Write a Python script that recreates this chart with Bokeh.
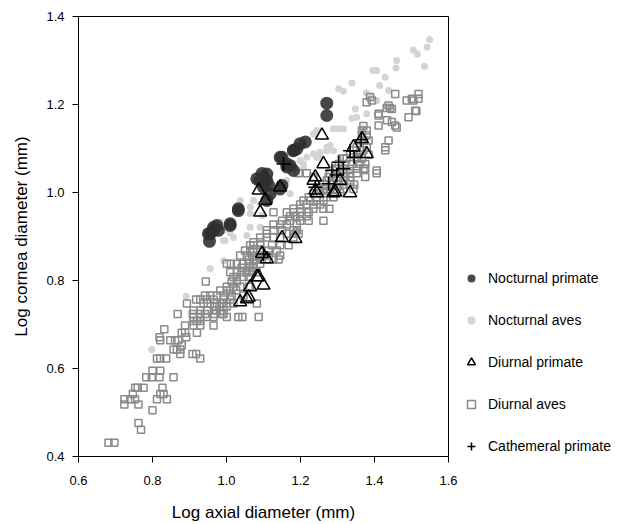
from bokeh.plotting import figure
from bokeh.models import Legend, LegendItem, ColumnDataSource, FixedTicker, PrintfTickFormatter
from bokeh.embed import file_html
from bokeh.resources import INLINE

# ---------------- data (log axial diameter, log cornea diameter) ----------------
nocturnal_primate = [
    (1.271, 1.203), (1.271, 1.175), (1.199, 1.111), (1.213, 1.115), (1.190, 1.099),
    (1.181, 1.096), (1.150, 1.080), (1.172, 1.061), (1.163, 1.058), (1.181, 1.050),
    (1.145, 1.080), (1.163, 1.065), (1.181, 1.095), (1.109, 1.042), (1.100, 1.035),
    (1.091, 1.027), (1.109, 1.027), (1.114, 1.016), (1.100, 1.012), (1.082, 1.031),
    (1.096, 1.043), (1.150, 1.016), (1.145, 1.008), (1.118, 0.997), (1.109, 0.982),
    (1.032, 0.963), (1.032, 0.959), (0.974, 0.925), (0.965, 0.914), (0.956, 0.906),
    (0.954, 0.889), (1.010, 0.925), (0.965, 0.921), (0.978, 0.914), (0.951, 0.906),
    (1.010, 0.929),
]

nocturnal_aves = [
    (1.549, 1.348), (1.542, 1.330), (1.535, 1.287), (1.516, 1.315), (1.505, 1.324),
    (1.460, 1.300), (1.458, 1.283), (1.406, 1.277), (1.396, 1.277), (1.429, 1.262),
    (1.414, 1.243), (1.438, 1.232), (1.339, 1.249), (1.303, 1.236), (1.316, 1.230),
    (1.378, 1.226), (1.388, 1.220), (1.406, 1.209), (1.348, 1.190), (1.339, 1.169),
    (1.352, 1.171), (1.379, 1.179), (1.366, 1.145), (1.316, 1.145), (1.303, 1.145),
    (1.289, 1.145), (1.244, 1.141), (1.271, 1.103), (1.253, 1.080), (1.235, 1.088),
    (1.217, 1.080), (1.199, 1.073), (1.208, 1.058), (1.181, 1.058), (1.163, 1.027),
    (1.145, 1.012), (1.127, 0.997), (1.109, 0.982), (1.091, 0.974), (1.073, 0.982),
    (1.064, 0.967), (1.037, 0.982), (1.032, 0.963), (0.992, 0.891), (0.983, 0.933),
    (1.064, 0.952), (1.096, 0.948), (1.064, 0.921), (0.992, 0.914), (1.019, 0.898),
    (1.172, 0.997), (1.127, 1.005), (1.091, 0.921), (1.055, 0.902), (0.996, 0.891),
    (0.992, 0.845), (0.956, 0.827), (0.891, 0.764), (0.798, 0.643), (1.010, 0.908),
    (1.253, 1.092), (1.280, 1.107), (1.271, 1.095), (1.289, 1.095), (1.307, 1.080),
    (1.244, 1.080), (1.208, 1.065), (1.190, 1.043), (1.235, 1.133),
]

diurnal_primate = [
    (1.258, 1.130), (1.262, 1.065), (1.087, 1.005), (1.105, 0.982), (1.091, 0.955),
    (1.145, 1.012), (1.235, 1.027), (1.334, 0.999), (1.289, 0.999), (1.366, 1.122),
    (1.343, 1.103), (1.307, 1.027), (1.186, 0.895), (1.150, 0.897), (1.244, 0.999),
    (1.379, 1.088), (1.240, 1.035), (1.240, 1.005), (1.294, 1.001), (1.037, 0.751),
    (1.055, 0.758), (1.064, 0.785), (1.082, 0.808), (1.100, 0.789), (1.096, 0.861),
    (1.109, 0.849), (1.060, 0.762), (1.087, 0.808),
]

diurnal_aves = [
    (0.681, 0.431), (0.697, 0.431), (0.762, 0.476), (0.769, 0.461), (0.800, 0.505),
    (0.724, 0.518), (0.762, 0.518), (0.724, 0.530), (0.740, 0.530), (0.753, 0.530),
    (0.812, 0.530), (0.839, 0.530), (0.747, 0.542), (0.821, 0.542), (0.830, 0.542),
    (0.753, 0.556), (0.760, 0.556), (0.776, 0.556), (0.827, 0.556), (0.783, 0.580),
    (0.798, 0.580), (0.819, 0.580), (0.857, 0.580), (0.800, 0.595), (0.821, 0.595),
    (0.812, 0.623), (0.821, 0.623), (0.837, 0.623), (0.929, 0.623), (0.875, 0.633),
    (0.908, 0.633), (0.918, 0.633), (0.857, 0.643), (0.866, 0.643), (0.875, 0.643),
    (0.879, 0.652), (0.821, 0.664), (0.848, 0.664), (0.861, 0.664), (0.870, 0.664),
    (0.819, 0.671), (0.891, 0.671), (0.879, 0.681), (0.888, 0.681), (0.920, 0.681),
    (0.832, 0.689), (0.888, 0.698), (0.911, 0.698), (0.929, 0.698), (0.965, 0.698),
    (0.911, 0.708), (0.920, 0.708), (0.929, 0.708), (0.911, 0.717), (0.929, 0.717),
    (0.947, 0.717), (0.965, 0.717), (1.001, 0.717), (1.032, 0.717), (1.043, 0.717),
    (1.087, 0.717), (0.868, 0.724), (0.909, 0.724), (0.929, 0.724), (0.942, 0.724),
    (0.968, 0.724), (0.987, 0.724), (0.992, 0.724), (0.911, 0.732), (0.929, 0.732),
    (0.947, 0.732), (0.972, 0.732), (0.983, 0.732), (0.968, 0.741), (0.981, 0.741),
    (0.992, 0.741), (1.001, 0.741), (0.893, 0.748), (0.938, 0.748), (0.949, 0.748),
    (0.974, 0.748), (0.987, 0.748), (1.001, 0.748), (1.019, 0.748), (1.082, 0.748),
    (0.918, 0.757), (0.929, 0.757), (0.947, 0.757), (0.965, 0.757), (0.992, 0.757),
    (1.010, 0.757), (0.942, 0.766), (0.956, 0.766), (0.974, 0.766), (0.992, 0.766),
    (1.014, 0.766), (1.046, 0.766), (0.983, 0.777), (1.001, 0.777), (1.010, 0.777),
    (1.026, 0.777), (1.001, 0.786), (1.019, 0.786), (1.037, 0.786), (1.060, 0.786),
    (1.064, 0.786), (0.944, 0.798), (1.014, 0.798), (1.028, 0.798), (1.019, 0.808),
    (1.028, 0.808), (1.046, 0.808), (1.060, 0.808), (1.010, 0.819), (1.028, 0.819),
    (1.041, 0.819), (1.055, 0.819), (1.069, 0.819), (1.082, 0.819), (1.041, 0.829),
    (1.064, 0.829), (1.071, 0.829), (1.001, 0.838), (1.012, 0.838), (1.028, 0.838),
    (1.044, 0.838), (1.060, 0.838), (1.073, 0.838), (1.091, 0.838), (1.060, 0.848),
    (1.073, 0.848), (1.082, 0.848), (1.096, 0.848), (1.109, 0.848), (1.127, 0.848),
    (1.141, 0.848), (1.037, 0.857), (1.055, 0.857), (1.069, 0.857), (1.091, 0.857),
    (1.114, 0.857), (1.145, 0.857), (1.050, 0.868), (1.064, 0.868), (1.073, 0.868),
    (1.091, 0.868), (1.114, 0.868), (1.136, 0.868), (1.064, 0.880), (1.073, 0.880),
    (1.091, 0.880), (1.123, 0.880), (1.145, 0.880), (1.168, 0.880), (1.073, 0.887),
    (1.091, 0.887), (1.091, 0.898), (1.109, 0.898), (1.127, 0.898), (1.145, 0.898),
    (1.181, 0.898), (1.109, 0.906), (1.163, 0.906), (1.186, 0.906), (1.195, 0.906),
    (1.109, 0.914), (1.127, 0.914), (1.150, 0.914), (1.181, 0.914), (1.190, 0.914),
    (1.127, 0.927), (1.145, 0.927), (1.163, 0.927), (1.190, 0.927), (1.150, 0.936),
    (1.172, 0.936), (1.199, 0.936), (1.222, 0.936), (1.262, 0.936), (1.172, 0.946),
    (1.186, 0.946), (1.199, 0.946), (1.217, 0.946), (1.127, 0.955), (1.163, 0.955),
    (1.181, 0.955), (1.199, 0.955), (1.222, 0.955), (1.181, 0.963), (1.199, 0.963),
    (1.235, 0.963), (1.262, 0.963), (1.278, 0.963), (1.199, 0.973), (1.217, 0.973),
    (1.235, 0.973), (1.253, 0.973), (1.208, 0.982), (1.226, 0.982), (1.244, 0.982),
    (1.262, 0.982), (1.222, 0.989), (1.244, 0.989), (1.271, 0.989), (1.289, 0.989),
    (1.235, 0.999), (1.253, 0.999), (1.271, 0.999), (1.289, 0.999), (1.307, 0.999),
    (1.249, 1.008), (1.262, 1.008), (1.280, 1.008), (1.298, 1.008), (1.316, 1.008),
    (1.343, 1.008), (1.262, 1.018), (1.271, 1.018), (1.289, 1.018), (1.303, 1.018),
    (1.316, 1.018), (1.334, 1.018), (1.345, 1.018), (1.271, 1.027), (1.285, 1.027),
    (1.298, 1.027), (1.316, 1.027), (1.334, 1.027), (1.235, 1.035), (1.276, 1.035),
    (1.289, 1.035), (1.307, 1.035), (1.321, 1.035), (1.334, 1.035), (1.375, 1.035),
    (1.195, 1.044), (1.217, 1.044), (1.280, 1.044), (1.298, 1.044), (1.316, 1.044),
    (1.334, 1.044), (1.352, 1.044), (1.406, 1.044), (1.298, 1.054), (1.316, 1.054),
    (1.334, 1.054), (1.352, 1.054), (1.370, 1.054), (1.303, 1.065), (1.321, 1.065),
    (1.339, 1.065), (1.361, 1.065), (1.375, 1.065), (1.316, 1.077), (1.325, 1.077),
    (1.352, 1.077), (1.366, 1.077), (1.334, 1.086), (1.343, 1.086), (1.357, 1.086),
    (1.384, 1.086), (1.343, 1.096), (1.361, 1.096), (1.370, 1.096), (1.429, 1.096),
    (1.352, 1.103), (1.379, 1.103), (1.429, 1.103), (1.370, 1.118), (1.384, 1.118),
    (1.438, 1.118), (1.366, 1.130), (1.379, 1.130), (1.366, 1.141), (1.379, 1.141),
    (1.370, 1.151), (1.456, 1.152), (1.411, 1.152), (1.492, 1.171), (1.411, 1.179),
    (1.510, 1.186), (1.433, 1.192), (1.442, 1.192), (1.438, 1.198), (1.379, 1.205),
    (1.393, 1.209), (1.487, 1.209), (1.505, 1.209), (1.501, 1.213), (1.519, 1.213),
    (1.456, 1.224), (1.519, 1.224), (1.388, 1.217), (1.447, 1.190), (1.411, 1.175),
    (1.434, 1.164), (1.447, 1.160), (1.460, 1.148), (1.513, 1.185), (1.406, 1.050),
    (1.375, 1.054),
]

cathemeral_primate = [
    (1.154, 1.065), (1.285, 1.050), (1.303, 1.069), (1.334, 1.095), (1.364, 1.120),
    (1.240, 1.012), (1.276, 1.020), (1.316, 1.054), (1.298, 1.040), (1.345, 1.080),
    (1.100, 0.860),
]

series_names = ["Nocturnal primate", "Nocturnal aves", "Diurnal primate",
                "Diurnal aves", "Cathemeral primate"]
x_ticks = [0.6, 0.8, 1.0, 1.2, 1.4, 1.6]
y_ticks = [0.4, 0.6, 0.8, 1.0, 1.2, 1.4]


def src(pts):
    return ColumnDataSource(dict(x=[p[0] for p in pts], y=[p[1] for p in pts]))


FONT = "Liberation Sans"

p = figure(frame_width=370, frame_height=440, x_range=(0.6, 1.6), y_range=(0.4, 1.4),
           output_backend="svg", toolbar_location=None,
           min_border_left=78, min_border_right=0, min_border_top=16,
           min_border_bottom=60)
p.xgrid.visible = False
p.ygrid.visible = False
p.outline_line_color = "black"
p.outline_line_width = 1
p.background_fill_color = "white"
p.border_fill_color = "white"

r_na = p.scatter("x", "y", source=src(nocturnal_aves), marker="circle", size=7,
                 fill_color="#d4d4d4", line_color=None)
r_da = p.scatter("x", "y", source=src(diurnal_aves), marker="square", size=7,
                 fill_color=None, line_color="#8a8a8a", line_width=1.5)
r_np = p.scatter("x", "y", source=src(nocturnal_primate), marker="circle", size=13,
                 fill_color="#2f2f2f", fill_alpha=0.88, line_color=None)
r_dp = p.scatter("x", "y", source=src(diurnal_primate), marker="triangle", size=13,
                 fill_color=None, line_color="black", line_width=1.5)
r_cp = p.scatter("x", "y", source=src(cathemeral_primate), marker="cross", size=14,
                 line_color="black", line_width=1.5)

for ax, ticks in ((p.xaxis[0], x_ticks), (p.yaxis[0], y_ticks)):
    ax.ticker = FixedTicker(ticks=ticks)
    ax.formatter = PrintfTickFormatter(format="%.1f")
    ax.minor_tick_line_color = None
    ax.major_tick_out = 6
    ax.major_tick_in = 0
    ax.axis_line_color = "black"
    ax.major_tick_line_color = "black"
    ax.major_label_text_font = FONT
    ax.major_label_text_font_size = "13px"
    ax.major_label_text_color = "black"
    ax.axis_label_text_font = FONT
    ax.axis_label_text_font_size = "17px"
    ax.axis_label_text_font_style = "normal"
    ax.axis_label_text_color = "black"

p.xaxis.axis_label = "Log axial diameter (mm)"
p.yaxis.axis_label = "Log cornea diameter (mm)"
p.xaxis.major_label_standoff = 13
p.xaxis.axis_label_standoff = 15
p.yaxis.major_label_standoff = 8
p.yaxis.axis_label_standoff = 12

legend = Legend(items=[
    LegendItem(label=series_names[0], renderers=[r_np]),
    LegendItem(label=series_names[1], renderers=[r_na]),
    LegendItem(label=series_names[2], renderers=[r_dp]),
    LegendItem(label=series_names[3], renderers=[r_da]),
    LegendItem(label=series_names[4], renderers=[r_cp]),
], location=(6, 0), orientation="vertical")
legend.label_text_font = FONT
legend.label_text_font_size = "14px"
legend.label_text_color = "black"
legend.glyph_width = 34
legend.glyph_height = 20
legend.label_height = 20
legend.label_standoff = 0
legend.spacing = 22
legend.padding = 0
legend.margin = 0
legend.border_line_alpha = 0
legend.background_fill_alpha = 0
p.add_layout(legend, "right")

open("out.html", "w").write(file_html(p, INLINE))
